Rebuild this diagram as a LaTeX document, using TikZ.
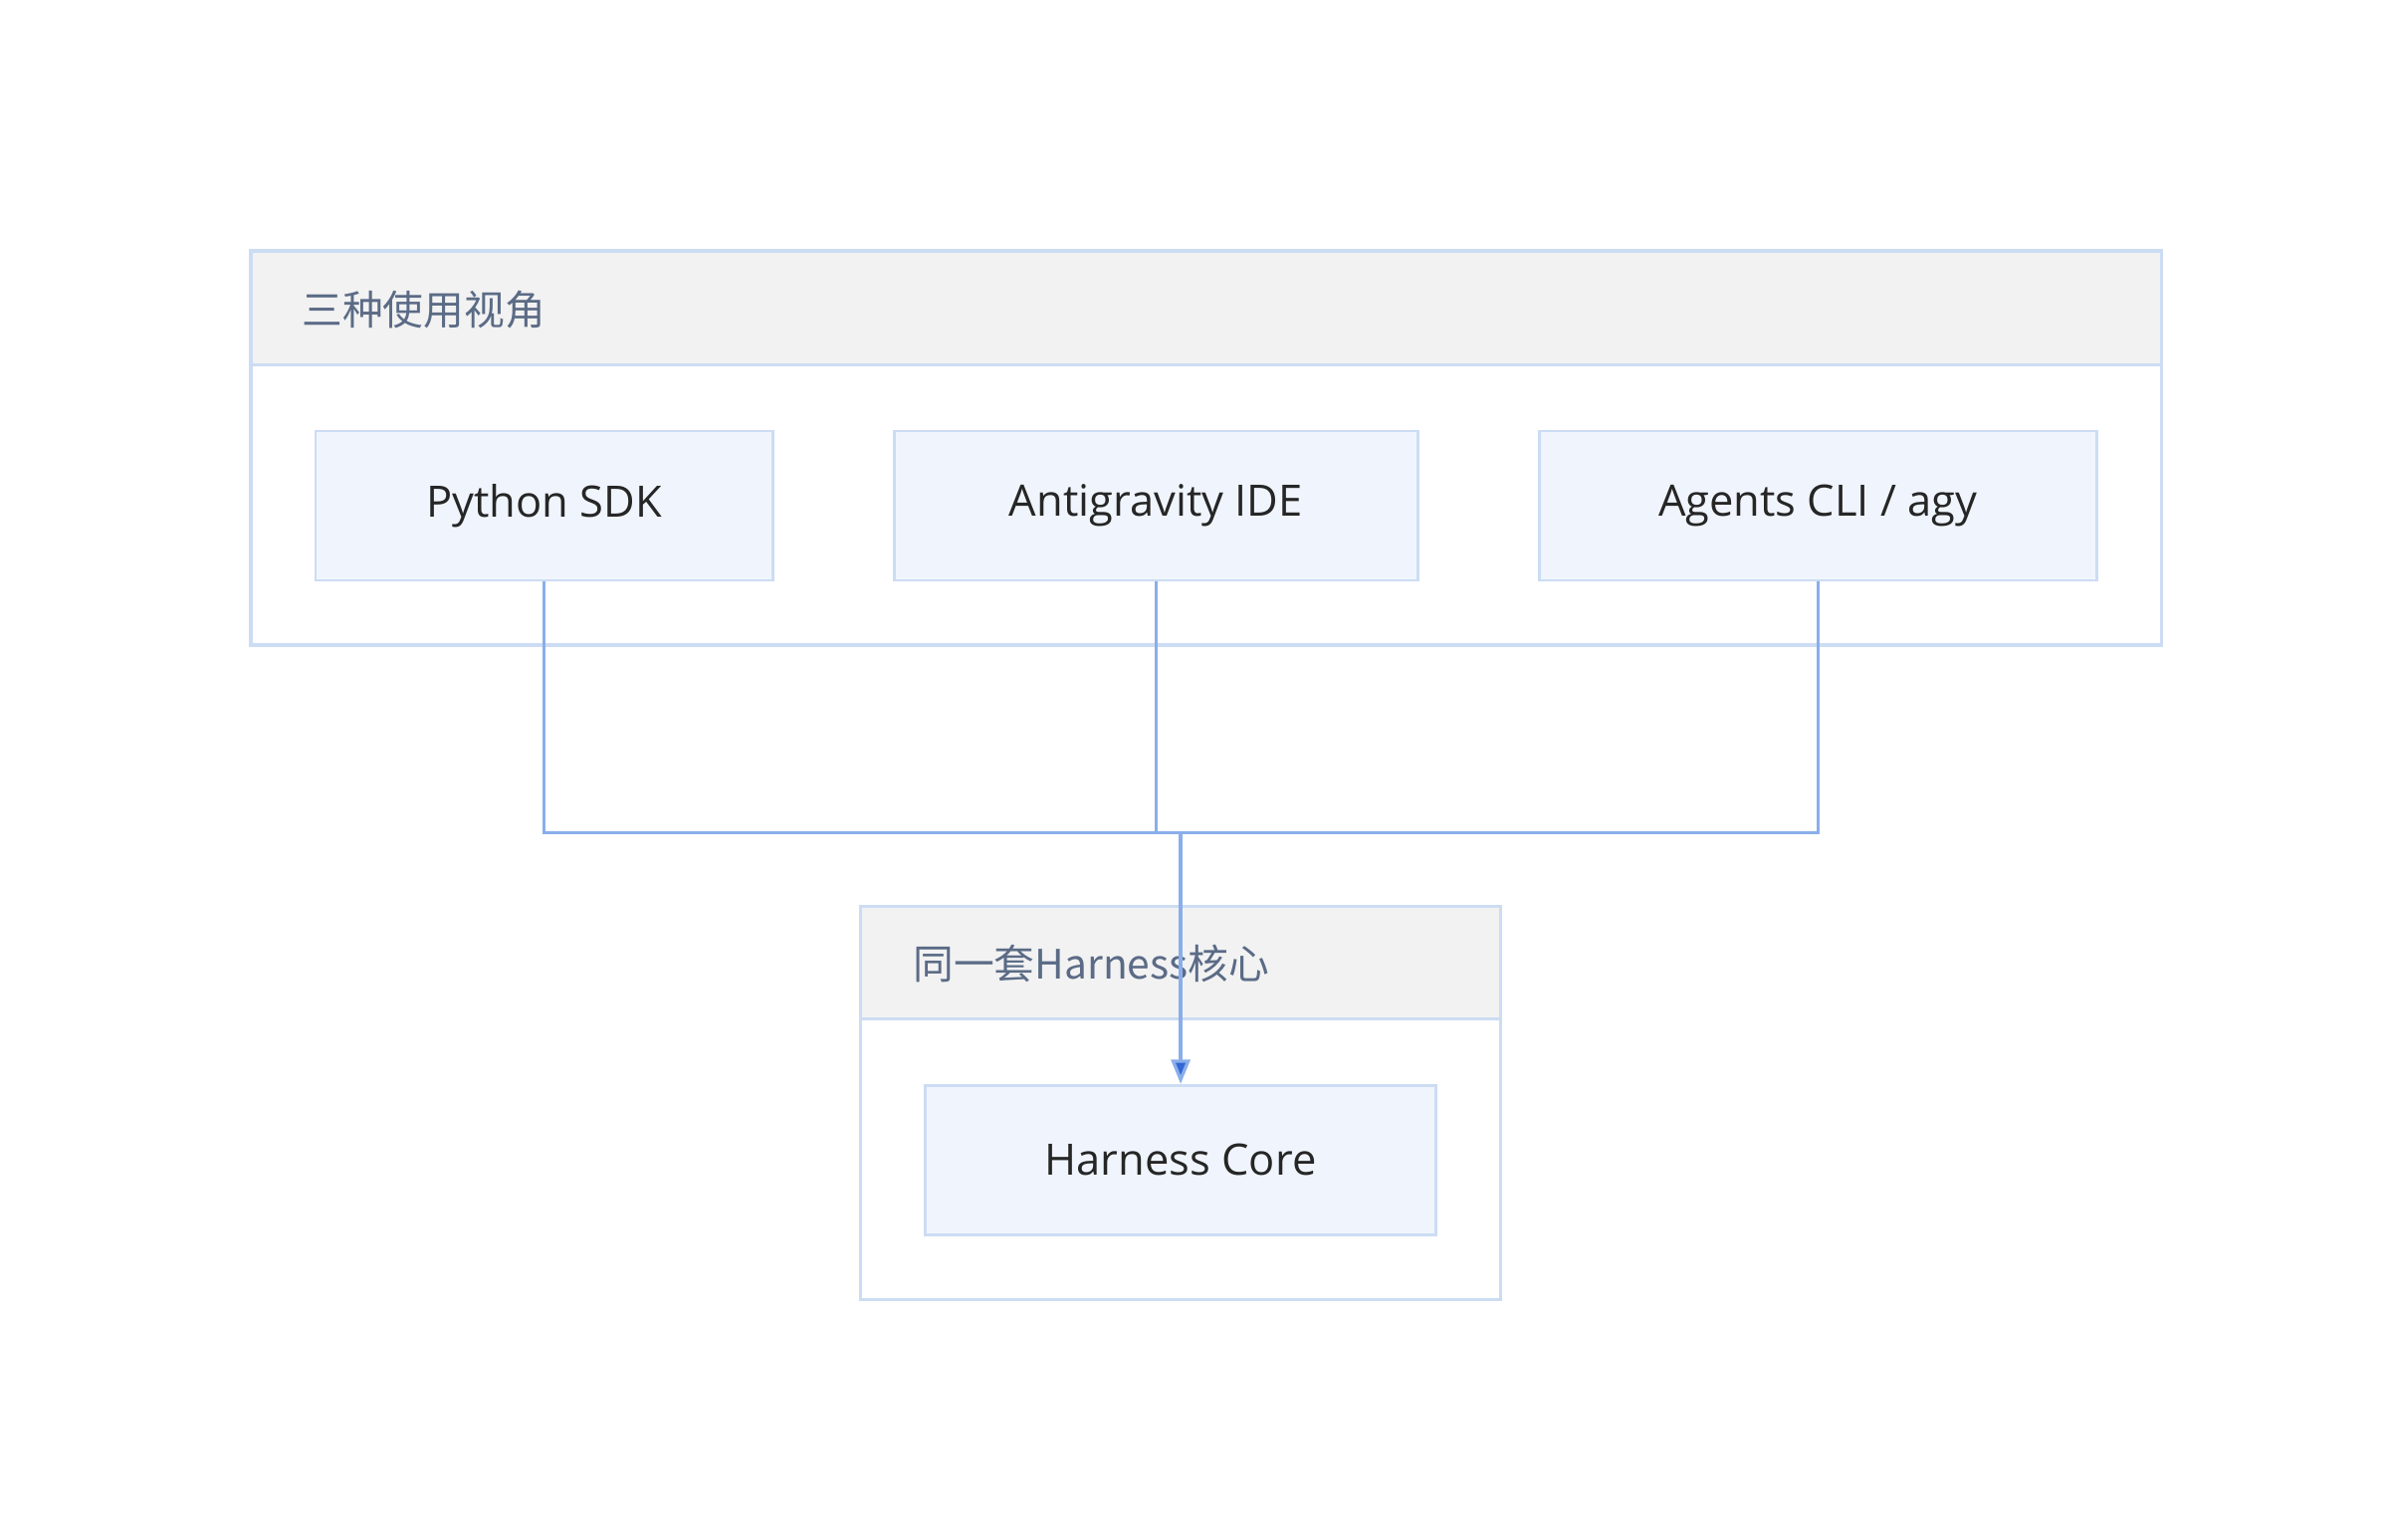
\documentclass[tikz,border=0pt]{standalone}
\usepackage{fontspec}
\setmainfont{Open Sans}
\newfontfamily\cjk{Noto Sans CJK SC}
\usetikzlibrary{arrows.meta,positioning,calc}
\definecolor{boxline}{HTML}{CCDCF3}
\definecolor{boxfill}{HTML}{F0F5FD}
\definecolor{headfill}{HTML}{F2F2F2}
\definecolor{linkblue}{HTML}{8AAEEA}
\definecolor{tipblue}{HTML}{3367D6}
\definecolor{titlegray}{HTML}{5B6B86}
\tikzset{
    item/.style={draw=boxline, fill=boxfill, line width=1pt, minimum height=1.94cm, font=\fontsize{16}{19}\selectfont, text=black!85},
    group/.style={draw=boxline, line width=1.2pt},
    link/.style={draw=linkblue, line width=1.2pt}
}
\begin{document}
\begin{tikzpicture}[x=0.02cm,y=-0.02cm]
    \useasboundingbox (0,0) rectangle (1552,1000);
    % upper group
    \draw[group, fill=headfill] (163,163) rectangle (1404,237);
    \draw[group] (163,237) rectangle (1404,419);
    \node[anchor=west, text=titlegray, font=\cjk\fontsize{15}{18}\selectfont] (viewtitle) at (190,201) {三种使用视角};
    \node[item, minimum width=5.94cm] (sdk) at (353.5,328.5) {Python SDK};
    \node[item, minimum width=6.8cm] (ide) at (751,328.5) {Antigravity IDE};
    \node[item, minimum width=7.24cm] (cli) at (1181,328.5) {Agents CLI / agy};
    % lower group
    \draw[group, fill=headfill] (559,589) rectangle (975,662);
    \draw[group] (559,662) rectangle (975,844);
    \node[anchor=west, text=titlegray, font=\cjk\fontsize{15}{18}\selectfont] (coretitle) at (587,626) {同一套Harness核心};
    \node[item, minimum width=6.64cm] (core) at (767,753.5) {Harness Core};
    % links
    \coordinate (join) at (767,541);
    \draw[link] (sdk.south) |- (join);
    \draw[link] (cli.south) |- (join);
    \draw[link] (ide.south) -- (ide.south |- join);
    \draw[link, -{Triangle[length=9pt,width=7pt,fill=tipblue]}] (join) -- (core.north);
\end{tikzpicture}
\end{document}
